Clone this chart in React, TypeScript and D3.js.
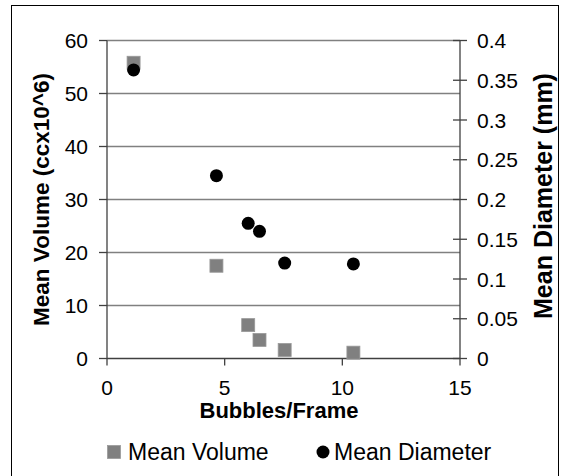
import React from 'react';
import * as d3 from 'd3';

const bubbles = [1.13, 4.65, 6.0, 6.48, 7.55, 10.47];
const meanVolume = [55.8, 17.5, 6.3, 3.5, 1.6, 1.1];
const meanDiameter = [0.363, 0.23, 0.17, 0.16, 0.12, 0.119];

const xTicks = [0, 5, 10, 15];
const leftTicks = [0, 10, 20, 30, 40, 50, 60];
const rightTicks = [0, 0.05, 0.1, 0.15, 0.2, 0.25, 0.3, 0.35, 0.4];

const W = 566;
const H = 476;
const font = 'Liberation Sans, Arial, Helvetica, sans-serif';

const App = () => {
  const margin = { top: 40.5, right: 106, bottom: 117.5, left: 107 };
  const x = d3.scaleLinear().domain([0, 15]).range([margin.left, W - margin.right]);
  const yL = d3.scaleLinear().domain([0, 60]).range([H - margin.bottom, margin.top]);
  const yR = d3.scaleLinear().domain([0, 0.4]).range([H - margin.bottom, margin.top]);

  const x0 = x(0);
  const x1 = x(15);
  const yBottom = yL(0);
  const yTop = yL(60);

  return (
    <svg width={W} height={H} style={{ position: 'absolute', left: 0, top: 0, background: '#fff' }}>
      <rect x={11.5} y={5.5} width={547} height={475} fill="#fff" stroke="#000" strokeWidth={1} />

      {/* gridlines */}
      {leftTicks.filter(t => t > 0).map(t => (
        <line key={'g' + t} x1={x0} x2={x1} y1={yL(t)} y2={yL(t)} stroke="#808080" strokeWidth={1.3} />
      ))}

      {/* axes */}
      <line x1={x0} x2={x0} y1={yTop} y2={yBottom} stroke="#404040" strokeWidth={1.3} />
      <line x1={x1} x2={x1} y1={yTop} y2={yBottom} stroke="#404040" strokeWidth={1.3} />
      <line x1={x0} x2={x1} y1={yBottom} y2={yBottom} stroke="#404040" strokeWidth={1.3} />

      {/* left ticks */}
      {leftTicks.map(t => (
        <g key={'l' + t}>
          <line x1={x0 - 8} x2={x0} y1={yL(t)} y2={yL(t)} stroke="#404040" strokeWidth={1.3} />
          <text x={x0 - 19} y={yL(t)} dy="0.36em" textAnchor="end" fontFamily={font} fontSize={21} fill="#000">{t}</text>
        </g>
      ))}

      {/* right ticks */}
      {rightTicks.map(t => (
        <g key={'r' + t}>
          <line x1={x1 - 7} x2={x1 + 7} y1={yR(t)} y2={yR(t)} stroke="#404040" strokeWidth={1.3} />
          <text x={x1 + 17} y={yR(t)} dy="0.36em" textAnchor="start" fontFamily={font} fontSize={21} fill="#000">{d3.format('~g')(t)}</text>
        </g>
      ))}

      {/* bottom ticks */}
      {xTicks.map(t => (
        <g key={'b' + t}>
          <line x1={x(t)} x2={x(t)} y1={yBottom} y2={yBottom + 7} stroke="#404040" strokeWidth={1.3} />
          <text x={x(t)} y={395} textAnchor="middle" fontFamily={font} fontSize={21} fill="#000">{t}</text>
        </g>
      ))}

      {/* axis titles */}
      <text x={279} y={418} textAnchor="middle" fontFamily={font} fontSize={22} fontWeight="bold" fill="#000">Bubbles/Frame</text>
      <text transform={`translate(41,${(yTop + yBottom) / 2}) rotate(-90)`} textAnchor="middle" dominantBaseline="central"
        fontFamily={font} fontSize={22.5} fontWeight="bold" fill="#000">Mean Volume (ccx10^6)</text>
      <text transform={`translate(543,196) rotate(-90)`} textAnchor="middle" dominantBaseline="central"
        fontFamily={font} fontSize={25} fontWeight="bold" fill="#000">Mean Diameter (mm)</text>

      {/* Mean Volume squares */}
      {bubbles.map((b, i) => (
        <rect key={'s' + i} x={x(b) - 6.5} y={yL(meanVolume[i]) - 6.5} width={13} height={13}
          fill="#808080" stroke="#999" strokeWidth={0.8} />
      ))}

      {/* Mean Diameter circles */}
      {bubbles.map((b, i) => (
        <circle key={'c' + i} cx={x(b)} cy={yR(meanDiameter[i])} r={6.5} fill="#000" />
      ))}

      {/* legend */}
      <rect x={107.5} y={445.5} width={13} height={13} fill="#808080" stroke="#999" strokeWidth={0.8} />
      <text x={128} y={460} fontFamily={font} fontSize={23} fill="#000">Mean Volume</text>
      <circle cx={323} cy={452} r={6.5} fill="#000" />
      <text x={334} y={460} fontFamily={font} fontSize={23} fill="#000">Mean Diameter</text>
    </svg>
  );
};

export default App;
